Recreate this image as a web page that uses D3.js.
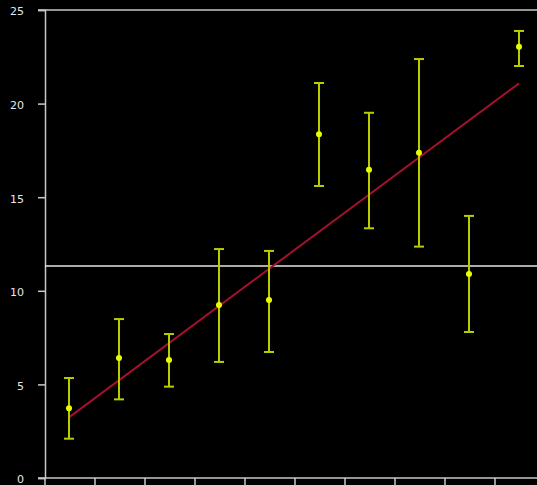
<!DOCTYPE html>
<html>
    <head>
        <meta charset="utf-8">
        <style>
          body { margin: 0; background: #000; }
          svg { display: block; }
        </style>
    </head>
    <body>
        <script src="https://d3js.org/d3.v7.min.js"></script>
        <script>
          // groups 1..10
          const groups = [1, 2, 3, 4, 5, 6, 7, 8, 9, 10];
          const means = [3.72, 6.41, 6.30, 9.24, 9.51, 18.36, 16.47, 17.38, 10.90, 23.04];
          const lows = [2.10, 4.20, 4.88, 6.20, 6.73, 15.60, 13.34, 12.36, 7.80, 22.01];
          const highs = [5.34, 8.49, 7.69, 12.23, 12.13, 21.10, 19.51, 22.38, 14.00, 23.88];
          // fitted line value at first and last group
          const fitEnds = [3.24, 21.08];
          const refLine = 11.32;
          const yTicks = [0, 5, 10, 15, 20, 25];

          const width = 537, height = 485;
          const margin = { top: 10, right: -8, bottom: 7, left: 45 };

          const svg = d3.select('body').append('svg')
            .attr('width', width)
            .attr('height', height);

          const x = d3.scaleBand()
            .domain(groups)
            .range([margin.left, width - margin.right])
            .padding(0);

          const y = d3.scaleLinear()
            .domain([0, 25])
            .range([height - margin.bottom, margin.top]);

          const axisColor = '#c8c8c8';
          const cx = d => x(d) + x.bandwidth() / 2 - 1;

          // y axis
          const yAxis = svg.append('g')
            .attr('transform', `translate(${margin.left},0)`)
            .call(d3.axisLeft(y).tickValues(yTicks).tickSize(7).tickPadding(14));
          yAxis.select('.domain').attr('stroke', axisColor).attr('stroke-width', 1.5);
          yAxis.selectAll('.tick line').attr('stroke', axisColor).attr('stroke-width', 1.5);
          yAxis.selectAll('.tick text')
            .attr('fill', '#e6e6e6')
            .attr('dy', '0.45em')
            .style('font-family', '"DejaVu Sans", sans-serif')
            .style('font-size', '11px');

          // x axis with ticks at band edges
          const edges = groups.map(g => x(g)).concat([x(groups[groups.length - 1]) + x.bandwidth()]);
          const xg = svg.append('g');
          xg.append('line')
            .attr('x1', margin.left - 7).attr('x2', width)
            .attr('y1', y(0)).attr('y2', y(0))
            .attr('stroke', axisColor).attr('stroke-width', 1.5);
          xg.selectAll('line.tick')
            .data(edges)
            .join('line')
            .attr('class', 'tick')
            .attr('x1', d => d).attr('x2', d => d)
            .attr('y1', y(0)).attr('y2', y(0) + 7)
            .attr('stroke', axisColor).attr('stroke-width', 1.5);

          // top border
          svg.append('line')
            .attr('x1', margin.left - 7).attr('x2', width)
            .attr('y1', y(25)).attr('y2', y(25))
            .attr('stroke', axisColor).attr('stroke-width', 1.5);

          // reference line
          svg.append('line')
            .attr('x1', margin.left).attr('x2', width)
            .attr('y1', y(refLine)).attr('y2', y(refLine))
            .attr('stroke', '#e6e6e6').attr('stroke-width', 1.5);

          // fitted line
          svg.append('line')
            .attr('x1', cx(groups[0])).attr('y1', y(fitEnds[0]))
            .attr('x2', cx(groups[groups.length - 1])).attr('y2', y(fitEnds[1]))
            .attr('stroke', '#a3102e').attr('stroke-width', 2);

          // error bars
          const barColor = '#b9cc00';
          const eb = svg.append('g').selectAll('g')
            .data(groups)
            .join('g');
          eb.append('line')
            .attr('x1', d => cx(d)).attr('x2', d => cx(d))
            .attr('y1', (d, i) => y(lows[i])).attr('y2', (d, i) => y(highs[i]))
            .attr('stroke', barColor).attr('stroke-width', 2);
          eb.append('line')
            .attr('x1', d => cx(d) - 5).attr('x2', d => cx(d) + 5)
            .attr('y1', (d, i) => y(highs[i])).attr('y2', (d, i) => y(highs[i]))
            .attr('stroke', barColor).attr('stroke-width', 2);
          eb.append('line')
            .attr('x1', d => cx(d) - 5).attr('x2', d => cx(d) + 5)
            .attr('y1', (d, i) => y(lows[i])).attr('y2', (d, i) => y(lows[i]))
            .attr('stroke', barColor).attr('stroke-width', 2);

          // points
          svg.append('g').selectAll('circle')
            .data(groups)
            .join('circle')
            .attr('cx', d => cx(d))
            .attr('cy', (d, i) => y(means[i]))
            .attr('r', 3)
            .attr('fill', '#e8ff00');
        </script>
    </body>
</html>
